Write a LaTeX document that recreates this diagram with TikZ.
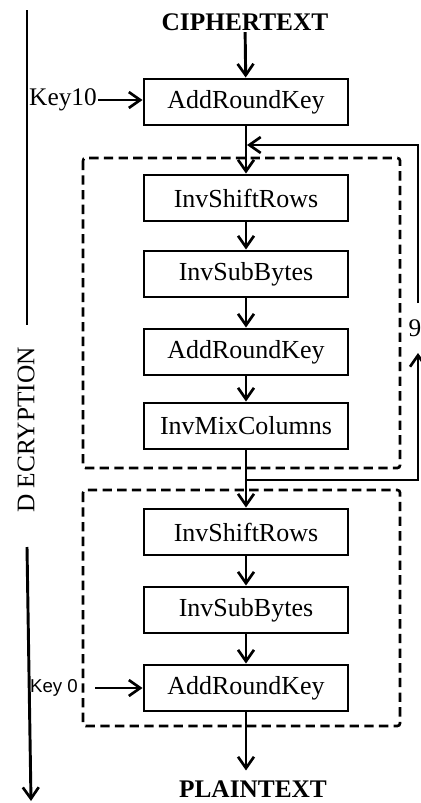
\documentclass[tikz,border=0pt]{standalone}
\usepackage{fontspec}
\setmainfont{Liberation Serif}
\newfontfamily\keysans{Liberation Sans}
\usetikzlibrary{positioning, arrows.meta, calc}
\tikzset{
  stage/.style   = {draw, line width=2.2pt, minimum width=153pt, minimum height=34.5pt,
                    inner sep=2pt, align=center, font=\fontsize{19.5}{21}\selectfont},
  title/.style   = {font=\bfseries\fontsize{19}{21}\selectfont, inner sep=1pt},
  keylbl/.style  = {font=\fontsize{19}{21}\selectfont, inner sep=1pt},
  roundbox/.style = {draw, line width=2pt, dash pattern=on 7pt off 4pt, rounded corners=2pt},
  arrow/.style   = {-{Straight Barb[length=3mm, width=4.2mm, line width=2pt]}, line width=2.2pt},
  wire/.style    = {line width=2.2pt},
}

\begin{document}
\begin{tikzpicture}[x=0.75pt, y=-0.75pt]
  \useasboundingbox (0,0) rectangle (421,803);

  % rounds (dashed frames)
  \draw[roundbox] (83,158) rectangle (400,468);   % 9 main rounds
  \draw[roundbox] (83,490) rectangle (400,726);   % last round

  \node[title]  at (245, 22)  (cipher) {CIPHERTEXT};
  \node[stage]  at (246,102)  (ark0)   {AddRoundKey};
  \node[keylbl] at ( 63,100)  (key10)  {Key10};

  \node[stage]  at (246,198)  (isr1)   {InvShiftRows};
  \node[stage]  at (246,274)  (isb1)   {InvSubBytes};
  \node[stage]  at (246,352)  (ark1)   {AddRoundKey};
  \node[stage]  at (246,426)  (imc)    {InvMixColumns};

  \node[stage]  at (246,532)  (isr2)   {InvShiftRows};
  \node[stage]  at (246,610)  (isb2)   {InvSubBytes};
  \node[stage]  at (246,688)  (ark2)   {AddRoundKey};
  \node[keylbl, font=\keysans\fontsize{14}{16}\selectfont] at (54,688) (key0) {Key 0};

  \node[title]  at (253,789)  (plain)  {PLAINTEXT};

  % loop of 9 rounds
  \coordinate (loopout) at (247,480);
  \coordinate (loopin)  at (247,145);
  \coordinate (loopup)  at (418,353);
  \coordinate (loopdn)  at (418,303);
  \node[keylbl] at (415,328) (rounds) {9};

  % direction axis
  \node[keylbl, rotate=90, font=\fontsize{19}{21}\selectfont] at (26,430) (dec) {D ECRYPTION};
  \coordinate (axtop)  at (27, 10);
  \coordinate (axgap1) at (27,325);
  \coordinate (axgap2) at (27,547);
  \coordinate (axend)  at (31,801);

  \draw[arrow] (cipher) -- (ark0);
  \draw[arrow] (key10)  -- (ark0.west |- key10.east);
  \draw[arrow] (ark0)   -- (isr1);
  \draw[arrow] (isr1)   -- (isb1);
  \draw[arrow] (isb1)   -- (ark1);
  \draw[arrow] (ark1)   -- (imc);
  \draw[arrow] (imc)    -- (isr2);
  \draw[arrow] (isr2)   -- (isb2);
  \draw[arrow] (isb2)   -- (ark2);
  \draw[arrow] ([xshift=12pt]key0.east) -- (ark2.west);
  \draw[arrow] (ark2.south) -- ++(0,58);
  \draw[arrow] (loopout) -| (loopup);
  \draw[arrow] (loopdn) |- (loopin);
  \draw[wire]  (axtop) -- (axgap1);
  \draw[arrow] (axgap2) -- (axend);
\end{tikzpicture}
\end{document}
